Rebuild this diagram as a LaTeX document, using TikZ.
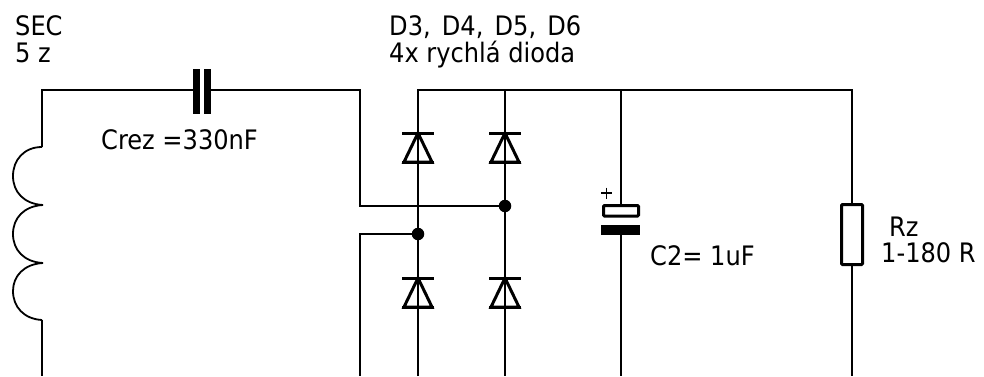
\documentclass[tikz,border=0pt]{standalone}
\usepackage{fontspec}
\setmainfont{DejaVu Sans Condensed}
\tikzset{
  wire/.style={draw=black,line width=1.9pt},
  bar/.style={draw=black,line width=3pt},
  dot/.style={circle,fill=black,inner sep=0pt,minimum size=12.5pt},
  lbl/.style={anchor=base west,inner sep=0pt,font=\fontsize{26.8}{30}\selectfont},
}
\newcommand{\diodeglyph}[3]{%
  \draw[bar,line join=miter] (#1-16,#2) -- (#1+16,#2);
  \draw[bar,line join=miter] (#1,#2) -- (#1-14,#3) -- (#1+14,#3) -- cycle;
  \draw[bar] (#1-16,#3) -- (#1+16,#3);
}
\begin{document}
\begin{tikzpicture}[x=1pt,y=-1pt]
\useasboundingbox (0,0) rectangle (984,376);
\fill[white] (0,0) rectangle (984,376);
% coordinates
\coordinate (lb) at (42,376);
\coordinate (lc) at (42,320);
\coordinate (lt) at (42,147);
\coordinate (tl) at (42,90);
\coordinate (capL) at (196,90);
\coordinate (capR) at (208,90);
\coordinate (tr) at (360,90);
\coordinate (m1) at (360,206);
\coordinate (m2t) at (360,234);
\coordinate (m2b) at (360,376);
\coordinate (railL) at (418,90);
\coordinate (railM) at (505,90);
\coordinate (railC) at (621,90);
\coordinate (railR) at (852,90);
\coordinate (b1) at (418,376);
\coordinate (b2) at (505,376);
\coordinate (b3) at (621,376);
\coordinate (b4) at (852,376);
\coordinate (c2a) at (621,204);
\coordinate (c2b) at (621,235);
\node[dot] (j1) at (505,206) {};
\node[dot] (j2) at (418,234) {};
\node[draw=black,line width=3pt,fill=white,inner sep=0pt,minimum width=21pt,minimum height=60pt,rounded corners=1pt] (rz) at (852,234.5) {};
% wires
\draw[wire,line join=miter] (lc) -- (lb);
\draw[wire,line join=miter] (lt) -- (tl) -- (capL);
\draw[wire,line join=miter] (capR) -- (tr) -- (m1) -- (j1);
\draw[wire,line join=miter] (j2) -- (m2t) -- (m2b);
\draw[wire,line join=miter] (b1) -- (railL) -- (railR) -- (rz.north);
\draw[wire] (railM) -- (b2);
\draw[wire] (railC) -- (c2a);
\draw[wire] (c2b) -- (b3);
\draw[wire] (rz.south) -- (b4);
% coil
\draw[line width=1.8pt,line join=miter] (lt)
  .. controls (24,147) and (13,160) .. (13,176)
  .. controls (13,192) and (24,204) .. (43,205)
  .. controls (24,206) and (13,218) .. (13,234)
  .. controls (13,250) and (24,262) .. (43,263)
  .. controls (24,264) and (13,276) .. (13,291)
  .. controls (13,307) and (24,319) .. (lc);
% series capacitor
\fill (193,69) rectangle (200,114);
\fill (204,69) rectangle (211,114);
% diodes
\diodeglyph{418}{133}{162}
\diodeglyph{505}{133}{162}
\diodeglyph{418}{278}{307}
\diodeglyph{505}{278}{307}
% electrolytic
\draw[line width=3pt,fill=white,rounded corners=1pt] (603.5,205.5) rectangle (638.5,216);
\fill (601,225) rectangle (640,235);
\draw[line width=1.5pt] (601,193) -- (612,193) (606.5,187.5) -- (606.5,198.5);
% labels
\node[lbl] (t1) at (15,35) {SEC};
\node[lbl] (t2) at (15,62) {5 z};
\node[lbl] (t3) at (389,35) {D3,\hspace{3.5pt} D4,\hspace{3.5pt} D5,\hspace{3.5pt} D6};
\node[lbl] (t4) at (389,62) {4x rychlá dioda};
\node[lbl] (t5) at (101,149) {Crez =330nF};
\node[lbl] (t6) at (650,265) {C2= 1uF};
\node[lbl] (t7) at (889,236) {Rz};
\node[lbl] (t8) at (881,262) {1-180 R};
\end{tikzpicture}
\end{document}
